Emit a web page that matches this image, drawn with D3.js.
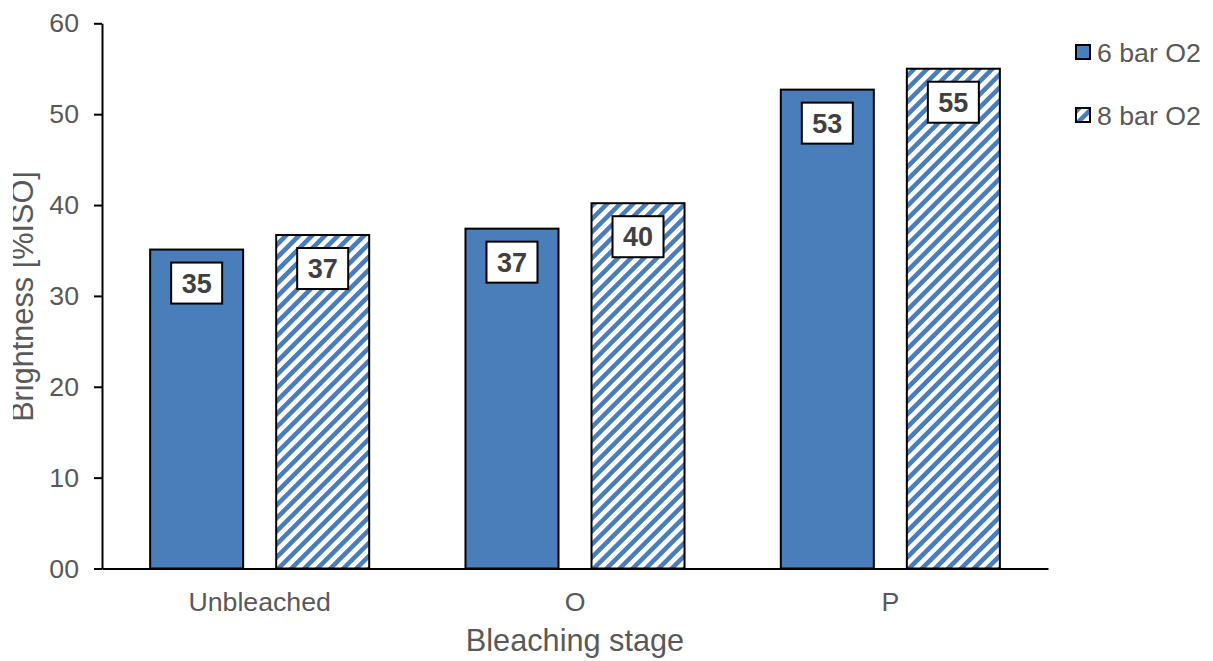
<!DOCTYPE html>
<html>
<head>
<meta charset="utf-8">
<script src="https://cdn.jsdelivr.net/npm/d3@7"></script>
<style>
  html, body { margin: 0; padding: 0; background: #fff; }
  svg { display: block; font-family: Arial, "Liberation Sans", sans-serif; }
</style>
</head>
<body>
<svg id="chart" width="1213" height="661"></svg>
<script>
// Bleaching stages and brightness per oxygen pressure
const categories = ["Unbleached", "O", "P"];
const seriesNames = ["6 bar O2", "8 bar O2"];
const values6bar = [35.1, 37.4, 52.7];
const values8bar = [36.7, 40.2, 55.0];
const yTicks = [0, 10, 20, 30, 40, 50, 60];

const seriesValues = [values6bar, values8bar];
const blue = "#4a7ebb";
const textGray = "#595959";

const svg = d3.select("#chart");
const margin = { left: 102, right: 165, top: 23, bottom: 92 };
const W = 1213, H = 661;

const x0 = d3.scaleBand().domain(categories)
  .range([margin.left, W - margin.right]).padding(0);
const x1 = d3.scaleBand().domain(seriesNames)
  .range([0, x0.bandwidth()]).paddingInner(0.262).paddingOuter(0.382);
const y = d3.scaleLinear().domain([0, 60]).range([H - margin.bottom - 0.5, margin.top + 0.3]);

// hatch pattern for the 8 bar series
const defs = svg.append("defs");
const period = 9.2;
const pat = defs.append("pattern")
  .attr("id", "hatch")
  .attr("patternUnits", "userSpaceOnUse")
  .attr("width", period).attr("height", period)
  .attr("patternTransform", "rotate(45)");
pat.append("rect").attr("width", period).attr("height", period).attr("fill", "#fff");
pat.append("rect").attr("width", period * 0.5).attr("height", period).attr("fill", blue);

const fills = [blue, "url(#hatch)"];

// bars
const groups = svg.append("g").selectAll("g")
  .data(categories)
  .join("g")
  .attr("transform", d => `translate(${x0(d)},0)`);

const bars = groups.selectAll("g.bar")
  .data((c, i) => seriesNames.map((s, j) => ({ series: s, j, value: seriesValues[j][i] })))
  .join("g").attr("class", "bar");

bars.append("rect")
  .attr("x", d => x1(d.series))
  .attr("y", d => y(d.value))
  .attr("width", x1.bandwidth())
  .attr("height", d => y(0) - y(d.value))
  .attr("fill", d => fills[d.j])
  .attr("stroke", "#000")
  .attr("stroke-width", 2);

// value labels in white boxes
const fmt = d3.format(".0f");
const boxW = 51, boxH = 41;
bars.append("rect")
  .attr("x", d => x1(d.series) + x1.bandwidth() / 2 - boxW / 2)
  .attr("y", d => y(d.value) + 13)
  .attr("width", boxW).attr("height", boxH)
  .attr("fill", "#fff").attr("stroke", "#000").attr("stroke-width", 2);
bars.append("text")
  .attr("x", d => x1(d.series) + x1.bandwidth() / 2)
  .attr("y", d => y(d.value) + 13 + boxH / 2 + 9.5)
  .attr("text-anchor", "middle")
  .attr("font-size", 27).attr("font-weight", "bold")
  .attr("fill", "#404040")
  .text(d => fmt(d.value));

// y axis
const yAxis = svg.append("g")
  .attr("transform", `translate(${margin.left},0)`)
  .call(d3.axisLeft(y).tickValues(yTicks).tickFormat(d3.format("02d")).tickSize(8).tickPadding(15).tickSizeOuter(0));
yAxis.select(".domain").attr("stroke", "#000").attr("stroke-width", 2);
yAxis.selectAll(".tick line").attr("stroke", "#000").attr("stroke-width", 2);
yAxis.selectAll(".tick text")
  .attr("font-size", 26.7).attr("fill", textGray).attr("font-family", "Arial, 'Liberation Sans', sans-serif");

// x axis line and labels
const xAxis = svg.append("g")
  .attr("transform", `translate(0,${y(0)})`)
  .call(d3.axisBottom(x0).tickSize(0).tickPadding(24).tickSizeOuter(0));
xAxis.select(".domain").attr("stroke", "#000").attr("stroke-width", 2);
xAxis.selectAll(".tick text")
  .attr("font-size", 26.7).attr("fill", textGray).attr("font-family", "Arial, 'Liberation Sans', sans-serif");

// axis titles
svg.append("text")
  .attr("x", (margin.left + W - margin.right) / 2)
  .attr("y", 651)
  .attr("text-anchor", "middle")
  .attr("font-size", 30.7).attr("fill", textGray)
  .text("Bleaching stage");

// y title sits against the left edge; its top strip is trimmed
defs.append("clipPath").attr("id", "ytitle-clip")
  .append("rect").attr("x", 13).attr("y", 0).attr("width", 80).attr("height", H);
svg.append("g")
  .attr("clip-path", "url(#ytitle-clip)")
  .append("text")
  .attr("transform", `translate(33,${(170 + 423) / 2}) rotate(-90)`)
  .attr("text-anchor", "middle")
  .attr("font-size", 30.7).attr("fill", textGray)
  .text("Brightness [%ISO]");

// legend
const legend = svg.append("g").selectAll("g")
  .data(seriesNames)
  .join("g")
  .attr("transform", (d, i) => `translate(1076,${45 + i * 63})`);
legend.append("rect")
  .attr("width", 14).attr("height", 14)
  .attr("fill", (d, i) => fills[i])
  .attr("stroke", "#000").attr("stroke-width", 2);
legend.append("text")
  .attr("x", 21).attr("y", 17)
  .attr("font-size", 26.7).attr("fill", textGray)
  .text(d => d);
</script>
</body>
</html>
